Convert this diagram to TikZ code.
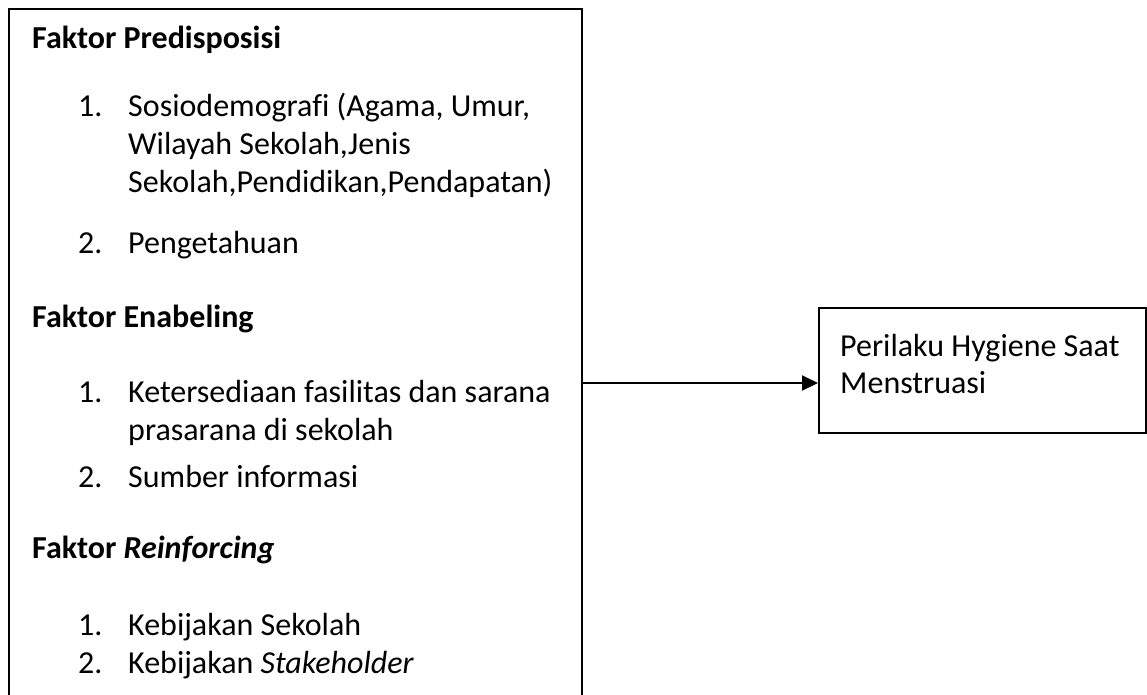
\documentclass[tikz,border=0pt]{standalone}
\usepackage{fontspec}
\setmainfont{Carlito}[Ligatures=NoCommon]
\usetikzlibrary{arrows.meta}
\tikzset{
  txt/.style={anchor=base west, inner sep=0pt, font=\fontsize{32}{38}\selectfont},
  head/.style={txt, font=\fontsize{32}{38}\selectfont\bfseries},
  frame/.style={draw=black, line width=2pt, inner sep=0pt},
  conn/.style={line width=2pt, -{Triangle[length=16pt,width=15pt]}}
}
\begin{document}
\begin{tikzpicture}[x=1pt,y=-1pt]
\clip (0,0) rectangle (1147,694);
\fill[white] (0,0) rectangle (1147,694);
% left box
\node[frame, anchor=north west, minimum width=573pt, minimum height=720pt] (factors) at (8,8) {};
\node[head] (h1) at (32,48) {Faktor Predisposisi};
\node[txt] (n11) at (78,116) {1.};
\node[txt] (t11) at (128,116) {Sosiodemografi (Agama, Umur,};
\node[txt] (t11b) at (128,154) {Wilayah Sekolah,Jenis};
\node[txt] (t11c) at (128,192) {Sekolah,Pendidikan,Pendapatan)};
\node[txt] (n12) at (78,253) {2.};
\node[txt] (t12) at (128,253) {Pengetahuan};
\node[head] (h2) at (32,327) {Faktor Enabeling};
\node[txt] (n21) at (78,402) {1.};
\node[txt] (t21) at (128,402) {Ketersediaan fasilitas dan sarana};
\node[txt] (t21b) at (128,440) {prasarana di sekolah};
\node[txt] (n22) at (78,487) {2.};
\node[txt] (t22) at (128,487) {Sumber informasi};
\node[head] (h3) at (32,558) {Faktor \textit{Reinforcing}};
\node[txt] (n31) at (78,635) {1.};
\node[txt] (t31) at (128,635) {Kebijakan Sekolah};
\node[txt] (n32) at (78,673) {2.};
\node[txt] (t32) at (128,673) {Kebijakan \textit{Stakeholder}};
% right box
\node[frame, anchor=north west, minimum width=327pt, minimum height=125pt] (outcome) at (818,307) {};
\node[txt] (o1) at (840,356) {Perilaku Hygiene Saat};
\node[txt] (o2) at (840,393) {Menstruasi};
% connector
\coordinate (ay) at (0,383);
\draw[conn] (factors.east |- ay) -- (outcome.west |- ay);
\end{tikzpicture}
\end{document}
